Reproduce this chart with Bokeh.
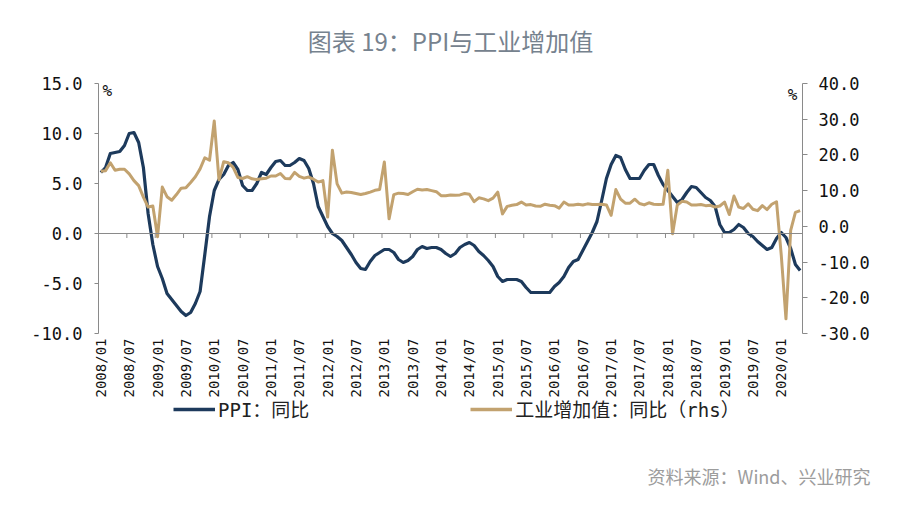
import math
from bokeh.plotting import figure
from bokeh.layouts import column
from bokeh.models import (Range1d, LinearAxis, FixedTicker, Span, Label, Legend,
                          LegendItem, NumeralTickFormatter)
from bokeh.embed import file_html
from bokeh.resources import INLINE

# ---------------- data (2008/01 .. 2020/05, monthly) ----------------
tick_labels = ["2008/01", "2008/07", "2009/01", "2009/07", "2010/01", "2010/07",
               "2011/01", "2011/07", "2012/01", "2012/07", "2013/01", "2013/07",
               "2014/01", "2014/07", "2015/01", "2015/07", "2016/01", "2016/07",
               "2017/01", "2017/07", "2018/01", "2018/07", "2019/01", "2019/07",
               "2020/01"]

ppi = [
    6.1, 6.6, 8.0, 8.1, 8.2, 8.8, 10.0, 10.1, 9.1, 6.6, 2.0, -1.1,          # 2008
    -3.3, -4.5, -6.0, -6.6, -7.2, -7.8, -8.2, -7.9, -7.0, -5.8, -2.1, 1.7,  # 2009
    4.3, 5.4, 5.9, 6.8, 7.1, 6.4, 4.8, 4.3, 4.3, 5.0, 6.1, 5.9,             # 2010
    6.6, 7.2, 7.3, 6.8, 6.8, 7.1, 7.5, 7.3, 6.5, 5.0, 2.7, 1.7,             # 2011
    0.7, 0.0, -0.3, -0.7, -1.4, -2.1, -2.9, -3.5, -3.6, -2.8, -2.2, -1.9,   # 2012
    -1.6, -1.6, -1.9, -2.6, -2.9, -2.7, -2.3, -1.6, -1.3, -1.5, -1.4, -1.4, # 2013
    -1.6, -2.0, -2.3, -2.0, -1.4, -1.1, -0.9, -1.2, -1.8, -2.2, -2.7, -3.3, # 2014
    -4.3, -4.8, -4.6, -4.6, -4.6, -4.8, -5.4, -5.9, -5.9, -5.9, -5.9, -5.9, # 2015
    -5.3, -4.9, -4.3, -3.4, -2.8, -2.6, -1.7, -0.8, 0.1, 1.2, 3.3, 5.5,     # 2016
    6.9, 7.8, 7.6, 6.4, 5.5, 5.5, 5.5, 6.3, 6.9, 6.9, 5.8, 4.9,             # 2017
    4.3, 3.7, 3.1, 3.4, 4.1, 4.7, 4.6, 4.1, 3.6, 3.3, 2.7, 0.9,             # 2018
    0.1, 0.1, 0.4, 0.9, 0.6, 0.0, -0.3, -0.8, -1.2, -1.6, -1.4, -0.5,       # 2019
    0.1, -0.4, -1.5, -3.1, -3.7,                                            # 2020
]

ip = [
    15.4, 15.6, 17.8, 15.7, 16.0, 16.0, 14.7, 12.8, 11.4, 8.2, 5.4, 5.7,    # 2008
    -2.9, 11.0, 8.3, 7.3, 8.9, 10.7, 10.8, 12.3, 13.9, 16.1, 19.2, 18.5,    # 2009
    29.5, 13.0, 18.1, 17.8, 16.5, 13.7, 13.4, 13.9, 13.3, 13.1, 13.3, 13.5, # 2010
    14.1, 14.1, 14.8, 13.4, 13.3, 15.1, 14.0, 13.5, 13.8, 13.2, 12.4, 12.8, # 2011
    2.6, 21.3, 11.9, 9.3, 9.6, 9.5, 9.2, 8.9, 9.2, 9.6, 10.1, 10.3,         # 2012
    18.0, 2.1, 8.9, 9.3, 9.2, 8.9, 9.7, 10.4, 10.2, 10.3, 10.0, 9.7,        # 2013
    8.6, 8.6, 8.8, 8.7, 8.8, 9.2, 9.0, 6.9, 8.0, 7.7, 7.2, 7.9,             # 2014
    9.6, 3.5, 5.6, 5.9, 6.1, 6.8, 6.0, 6.1, 5.7, 5.6, 6.2, 5.9,             # 2015
    5.8, 5.1, 6.8, 6.0, 6.0, 6.2, 6.0, 6.3, 6.1, 6.1, 6.2, 6.0,             # 2016
    3.1, 10.3, 7.6, 6.5, 6.5, 7.6, 6.4, 6.0, 6.6, 6.2, 6.1, 6.2,            # 2017
    15.7, -2.1, 6.0, 7.0, 6.8, 6.0, 6.0, 6.1, 5.8, 5.9, 5.4, 5.7,           # 2018
    6.8, 3.3, 8.5, 5.4, 5.0, 6.3, 4.8, 4.4, 5.8, 4.7, 6.2, 6.9,             # 2019
    -8.0, -25.9, -1.1, 3.9, 4.4,                                            # 2020
]

series_names = ["PPI：同比", "工业增加值：同比（rhs）"]
left_ticks = [-10, -5, 0, 5, 10, 15]
right_ticks = [-30, -20, -10, 0, 10, 20, 30, 40]
title_text = "图表 19：PPI与工业增加值"
source_text = "资料来源：Wind、兴业研究"

# ---------------- layout ----------------
W = 900
TOP_H, MAIN_H, BOT_H = 70, 330, 112          # stacked: 0-70, 70-400, 400-512
FL, FR = 98, 802                              # frame left/right (page px)
FT, FB = 83, 333                              # frame top/bottom (page px)
n = len(ppi)
x = list(range(n))

MONO = "'DejaVu Sans Mono', 'Noto Sans CJK SC'"
CJK = "'Noto Sans CJK SC'"
NAVY = "#1d3a5c"
TAN = "#c2a26f"
AXIS = "#8a8a8a"


def no_frame_align(f):
    try:
        f.frame_align = False
    except Exception:
        pass


def blank(height):
    f = figure(width=W, height=height, output_backend="svg", toolbar_location=None,
               x_range=Range1d(0, W), y_range=Range1d(height, 0),
               x_axis_type=None, y_axis_type=None,
               min_border_left=0, min_border_right=0,
               min_border_top=0, min_border_bottom=0)
    f.outline_line_color = None
    f.grid.visible = False
    f.background_fill_color = "white"
    f.border_fill_color = "white"
    no_frame_align(f)
    return f


# ---- title strip ----
top = blank(TOP_H)
top.add_layout(Label(x=450, y=40, text=title_text, text_align="center",
                     text_baseline="middle", text_font=CJK, text_font_size="24px",
                     text_color="#76828e"))

# ---- main chart ----
p = figure(width=W, height=MAIN_H, output_backend="svg", toolbar_location=None,
           x_range=Range1d(-0.5, n - 0.5),
           y_range=Range1d(left_ticks[0], left_ticks[-1]),
           min_border_left=FL, min_border_right=W - FR,
           min_border_top=FT - TOP_H, min_border_bottom=TOP_H + MAIN_H - FB)
no_frame_align(p)
p.extra_y_ranges = {"rhs": Range1d(right_ticks[0], right_ticks[-1])}
p.outline_line_color = None
p.xgrid.visible = False
p.ygrid.visible = False
p.background_fill_color = "white"
p.border_fill_color = "white"

label_pos = [6 * i for i in range(len(tick_labels))]
xa = p.xaxis[0]
xa.ticker = FixedTicker(ticks=label_pos)
xa.major_label_overrides = {pos: lab for pos, lab in zip(label_pos, tick_labels)}
xa.axis_line_color = None
xa.major_tick_line_color = None
xa.minor_tick_line_color = None
xa.major_tick_out = 0
xa.major_tick_in = 0
xa.major_label_standoff = 5
xa.major_label_orientation = math.pi / 2
xa.major_label_text_font = MONO
xa.major_label_text_font_size = "14px"
xa.major_label_text_color = "#111111"

ya = p.yaxis[0]
ya.ticker = FixedTicker(ticks=left_ticks)
ya.formatter = NumeralTickFormatter(format="0.0")
ya.axis_line_color = AXIS
ya.major_tick_line_color = AXIS
ya.minor_tick_line_color = None
ya.major_tick_out = 4
ya.major_tick_in = 0
ya.major_label_standoff = 12
ya.major_label_text_font = MONO
ya.major_label_text_font_size = "17px"
ya.major_label_text_color = "#111111"

ra = LinearAxis(y_range_name="rhs", ticker=FixedTicker(ticks=right_ticks),
                formatter=NumeralTickFormatter(format="0.0"))
ra.axis_line_color = AXIS
ra.major_tick_line_color = AXIS
ra.minor_tick_line_color = None
ra.major_tick_out = 5
ra.major_tick_in = 0
ra.major_label_standoff = 11
ra.major_label_text_font = MONO
ra.major_label_text_font_size = "17px"
ra.major_label_text_color = "#111111"
p.add_layout(ra, "right")

# category axis line at left-axis zero, ticks every 6 months
p.add_layout(Span(location=0, dimension="width", line_color=AXIS, line_width=1))
tick_x = [pos - 0.5 for pos in label_pos]
p.segment(x0=tick_x, y0=0, x1=tick_x, y1=-0.45, line_color=AXIS, line_width=1)

p.line(x, ppi, line_color=NAVY, line_width=3.2, line_join="round")
p.line(x, ip, y_range_name="rhs", line_color=TAN, line_width=3, line_join="round")


def dx(px):
    return -0.5 + (px - FL) / (FR - FL) * n


def dy(py):
    return left_ticks[-1] - (py - FT) / (FB - FT) * (left_ticks[-1] - left_ticks[0])


p.add_layout(Label(x=dx(102), y=dy(90), text="%", text_align="left",
                   text_baseline="middle", text_font=MONO,
                   text_font_size="16px", text_color="#111111"))
p.add_layout(Label(x=dx(797), y=dy(94), text="%", text_align="right",
                   text_baseline="middle", text_font=MONO,
                   text_font_size="16px", text_color="#111111"))

# ---- legend + source strip ----
bot = blank(BOT_H)
nan = float("nan")
g1 = bot.line(x=[nan], y=[nan], line_color=NAVY, line_width=3.5)
g2 = bot.line(x=[nan], y=[nan], line_color=TAN, line_width=3.5)
legend = Legend(items=[LegendItem(label=series_names[0], renderers=[g1]),
                       LegendItem(label=series_names[1], renderers=[g2])],
                location=(173, BOT_H - 22), orientation="horizontal", spacing=161,
                glyph_width=42, glyph_height=20, label_height=20, label_standoff=3,
                padding=0, margin=0, border_line_color=None,
                background_fill_alpha=0,
                label_text_font=MONO, label_text_font_size="19px",
                label_text_color="#222222")
bot.add_layout(legend)
bot.add_layout(Label(x=870, y=475 - (TOP_H + MAIN_H), text=source_text,
                     text_align="right", text_baseline="middle",
                     text_font=CJK, text_font_size="18px", text_color="#9c9c9c"))

layout = column(top, p, bot, spacing=0)
open("out.html", "w").write(file_html(layout, INLINE))
